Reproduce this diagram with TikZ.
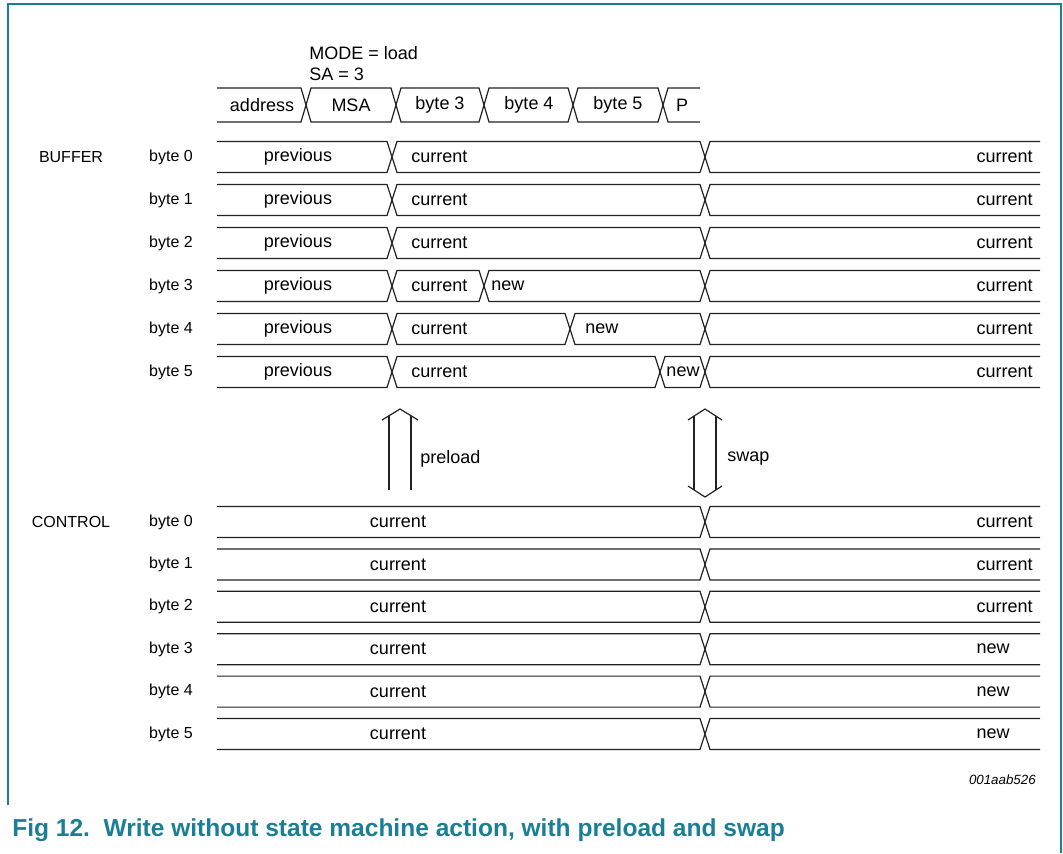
\documentclass[tikz,border=0pt]{standalone}
\usepackage{fontspec}
\setmainfont{Liberation Sans}
\definecolor{nxpteal}{HTML}{1A7F96}
\definecolor{busgrey}{HTML}{222222}
\newcommand\hh{15.5}
\newcommand\segPP[3]{\draw[bus] (#1,#3) -- (#1+5,#3-\hh) -- (#2-5,#3-\hh) -- (#2,#3) -- (#2-5,#3+\hh) -- (#1+5,#3+\hh) -- cycle;}
\newcommand\segOP[3]{\draw[bus] (#1,#3-\hh) -- (#2-5,#3-\hh) -- (#2,#3) -- (#2-5,#3+\hh) -- (#1,#3+\hh);}
\newcommand\segPO[3]{\draw[bus] (#2,#3-\hh) -- (#1+5,#3-\hh) -- (#1,#3) -- (#1+5,#3+\hh) -- (#2,#3+\hh);}
\begin{document}
\begin{tikzpicture}[x=0.75pt,y=-0.75pt,
  bus/.style={draw=busgrey,line width=0.9pt,line join=miter},
  txt/.style={font=\fontsize{13.5}{16}\selectfont,inner sep=0pt,text=black},
  side/.style={font=\fontsize{12}{14}\selectfont,inner sep=0pt,text=black,anchor=center},
  lbl/.style={txt,anchor=center},
  frame/.style={draw=nxpteal,line width=1.3pt},
  bigarrow/.style={draw=busgrey,line width=0.9pt,line join=miter}]
\useasboundingbox (0,0) rectangle (1063,853);
% frame
\draw[frame] (8,805) -- (8,4) -- (1061,4) -- (1061,853);
% header texts
\node[txt,anchor=west] (mode) at (309,53) {MODE = load};
\node[txt,anchor=west] (sa) at (309,74) {SA = 3};
% header bus
\renewcommand\hh{17}
\segOP{217}{306}{105}
\segPP{306}{396}{105}
\segPP{396}{484}{105}
\segPP{484}{573}{105}
\segPP{573}{663}{105}
\segPO{663}{700}{105}
\renewcommand\hh{15.5}
\node[lbl] (haddr) at (262,105) {address};
\node[lbl] (hmsa) at (351,105) {MSA};
\node[lbl] (hb3) at (440,105) {byte 3};
\node[lbl] (hb4) at (529,105) {byte 4};
\node[lbl] (hb5) at (618,105) {byte 5};
\node[lbl] (hp) at (682,105) {P};
% buffer section
\node[side] (buffer) at (71,157) {BUFFER};
\foreach \i/\y in {0/157,1/200,2/243,3/286,4/329,5/372}{
  \node[side] (bl\i) at (171,\y) {byte \i};
  \segOP{217}{392}{\y}
  \node[lbl] (bprev\i) at (298,\y) {previous};
  \segPO{705}{1040}{\y}
  \node[txt,anchor=east] (bcur\i) at (1033,\y) {current};
}
\foreach \i/\y in {0/157,1/200,2/243}{
  \segPP{392}{705}{\y}
  \node[txt,anchor=west] (bc\i) at (411,\y) {current};
}
\segPP{392}{484}{286}
\segPP{484}{705}{286}
\node[txt,anchor=west] (bc3) at (411,286) {current};
\node[txt,anchor=west] (bn3) at (491,286) {new};
\segPP{392}{570}{329}
\segPP{570}{705}{329}
\node[txt,anchor=west] (bc4) at (411,329) {current};
\node[txt,anchor=west] (bn4) at (585,329) {new};
\segPP{392}{660}{372}
\segPP{660}{705}{372}
\node[txt,anchor=west] (bc5) at (411,372) {current};
\node[lbl] (bn5) at (683,372) {new};
% preload arrow (open head)
\draw[bigarrow] (382,420) -- (400,409) -- (418,420);
\draw[bigarrow] (389,415.7) -- (389,490);
\draw[bigarrow] (411,415.7) -- (411,490);
\node[txt,anchor=west] (preload) at (420,459) {preload};
% swap arrow (double open head)
\draw[bigarrow] (688,420) -- (705,409) -- (722,420);
\draw[bigarrow] (688,486) -- (705,497) -- (722,486);
\draw[bigarrow] (694,416.1) -- (694,489.9);
\draw[bigarrow] (716,416.1) -- (716,489.9);
\node[txt,anchor=west] (swap) at (727,459) {swap};
% control section
\node[side] (control) at (71,522) {CONTROL};
\foreach \i/\y in {0/522,1/564.4,2/606.8,3/649.2,4/691.6,5/734}{
  \node[side] (cl\i) at (171,\y) {byte \i};
  \segOP{217}{705}{\y}
  \node[lbl] (ccur\i) at (398,\y) {current};
  \segPO{705}{1040}{\y}
}
\foreach \i/\y in {0/522,1/564.4,2/606.8}{
  \node[txt,anchor=east] (cr\i) at (1033,\y) {current};
}
\foreach \i/\y in {3/649.2,4/691.6,5/734}{
  \node[txt,anchor=east] (cr\i) at (1010,\y) {new};
}
% footnote
\node[anchor=east,inner sep=0pt,font=\fontsize{10}{12}\selectfont\itshape] (code) at (1036,780) {001aab526};
\node[anchor=west,inner sep=0pt,text=nxpteal,font=\fontsize{18.4}{22}\selectfont\bfseries] (caption) at (12,830) {Fig 12.\ \ Write without state machine action, with preload and swap};
\end{tikzpicture}
\end{document}
